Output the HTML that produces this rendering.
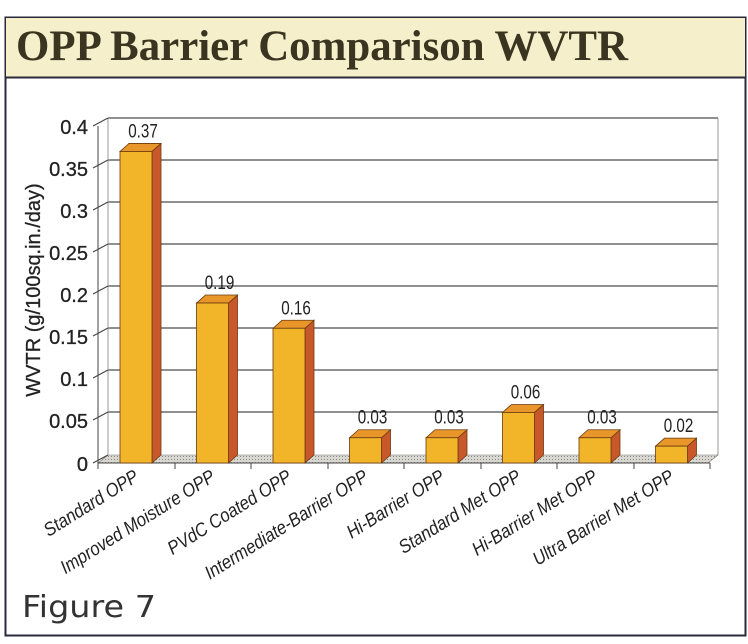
<!DOCTYPE html>
<html><head><meta charset="utf-8"><style>
body{margin:0;background:#fff;}
svg{display:block;font-family:"Liberation Sans",Arial,sans-serif;}
</style></head><body>
<svg width="748" height="644" viewBox="0 0 748 644" xmlns="http://www.w3.org/2000/svg">
<defs>
<pattern id="fl" width="3" height="3" patternUnits="userSpaceOnUse"><rect width="3" height="3" fill="#d8d8d0"/><rect width="1" height="1" fill="#888"/></pattern>
</defs>
<rect x="0" y="0" width="748" height="644" fill="#fff"/>
<rect x="5.5" y="17.5" width="740" height="618" fill="#fff" stroke="#2a2a3a" stroke-width="2"/>
<rect x="6" y="18" width="739" height="59" fill="#f5efcb"/>
<line x1="5" y1="77.5" x2="746" y2="77.5" stroke="#2a2a3a" stroke-width="2"/>
<text x="16" y="60" font-family="'Liberation Serif',serif" font-weight="bold" font-size="43" fill="#3a3420" textLength="612" lengthAdjust="spacingAndGlyphs">OPP Barrier Comparison WVTR</text>
<g id="chart">
<g stroke="#222" stroke-width="1">
<line x1="108" y1="118" x2="718" y2="118"/>
<line x1="108" y1="160" x2="718" y2="160"/>
<line x1="108" y1="202" x2="718" y2="202"/>
<line x1="108" y1="244" x2="718" y2="244"/>
<line x1="108" y1="286" x2="718" y2="286"/>
<line x1="108" y1="328" x2="718" y2="328"/>
<line x1="108" y1="370" x2="718" y2="370"/>
<line x1="108" y1="412" x2="718" y2="412"/>
</g>
<line x1="108" y1="118" x2="108" y2="455" stroke="#999"/>
<line x1="718" y1="118" x2="718" y2="455" stroke="#999"/>
<polygon points="98,463 108,455 718,455 708,463" fill="url(#fl)" stroke="#777" stroke-width="0.6"/>
<g stroke="#444" stroke-width="1" fill="none">
<line x1="98" y1="126" x2="98" y2="463"/>
<line x1="98" y1="463" x2="710" y2="463"/>
</g>
<g stroke="#444" stroke-width="1">
<line x1="93" y1="126" x2="108" y2="118"/><line x1="93" y1="168" x2="108" y2="160"/><line x1="93" y1="210" x2="108" y2="202"/><line x1="93" y1="252" x2="108" y2="244"/><line x1="93" y1="294" x2="108" y2="286"/><line x1="93" y1="336" x2="108" y2="328"/><line x1="93" y1="378" x2="108" y2="370"/><line x1="93" y1="420" x2="108" y2="412"/><line x1="93" y1="463" x2="108" y2="455"/>
<line x1="98" y1="463" x2="98" y2="469"/><line x1="175" y1="463" x2="175" y2="469"/><line x1="251" y1="463" x2="251" y2="469"/><line x1="328" y1="463" x2="328" y2="469"/><line x1="404" y1="463" x2="404" y2="469"/><line x1="481" y1="463" x2="481" y2="469"/><line x1="557" y1="463" x2="557" y2="469"/><line x1="634" y1="463" x2="634" y2="469"/><line x1="710" y1="463" x2="710" y2="469"/>
</g>
<g font-size="20" fill="#222" text-anchor="end" stroke="#222" stroke-width="0.3">
<text x="88" y="134">0.4</text><text x="88" y="176">0.35</text><text x="88" y="218">0.3</text><text x="88" y="260">0.25</text><text x="88" y="302">0.2</text><text x="88" y="344">0.15</text><text x="88" y="386">0.1</text><text x="88" y="428">0.05</text><text x="88" y="471">0</text>
</g>
<text transform="translate(40,290) rotate(-90)" text-anchor="middle" font-size="20" fill="#222" stroke="#222" stroke-width="0.3">WVTR (g/100sq.in./day)</text>
</g>
<g id="bars" stroke="#6a3a10" stroke-width="0.8"></g>
<g id="vals" font-size="19" fill="#222" text-anchor="middle"></g>
<g id="cats" font-size="19" font-style="italic" fill="#222" text-anchor="end"></g>
<text x="22" y="617" font-family="'DejaVu Sans',sans-serif" font-size="30" fill="#333" textLength="134" lengthAdjust="spacingAndGlyphs">Figure 7</text>
<script>
var v=[0.37,0.19,0.16,0.03,0.03,0.06,0.03,0.02];
var n=["Standard OPP","Improved Moisture OPP","PVdC Coated OPP","Intermediate-Barrier OPP","Hi-Barrier OPP","Standard Met OPP","Hi-Barrier Met OPP","Ultra Barrier Met OPP"];
var ns="http://www.w3.org/2000/svg";
var B=document.getElementById("bars"),V=document.getElementById("vals"),C=document.getElementById("cats");
function el(p,t,a,txt){var e=document.createElementNS(ns,t);for(var k in a)e.setAttribute(k,a[k]);if(txt)e.textContent=txt;p.appendChild(e);return e;}
for(var i=0;i<8;i++){
 var x0=98+i*76.5+22,w=32,y=463-v[i]*842,dx=9,dy=8;
 el(B,"polygon",{points:(x0+w)+","+y+" "+(x0+w+dx)+","+(y-dy)+" "+(x0+w+dx)+","+(463-dy)+" "+(x0+w)+",463",fill:"#c8582a"});
 el(B,"polygon",{points:x0+","+y+" "+(x0+dx)+","+(y-dy)+" "+(x0+w+dx)+","+(y-dy)+" "+(x0+w)+","+y,fill:"#e8962a"});
 el(B,"rect",{x:x0,y:y,width:w,height:463-y,fill:"#f2b52a"});
 el(V,"text",{transform:"translate("+(x0+w/2+7)+","+(y-14)+") scale(0.8,1)"},v[i].toFixed(2));
 var cx=98+i*76.5+42;
 el(C,"text",{transform:"translate("+cx+",480) rotate(-32) scale(0.88,1)"},n[i]);
}
</script>
</svg>
</body></html>
